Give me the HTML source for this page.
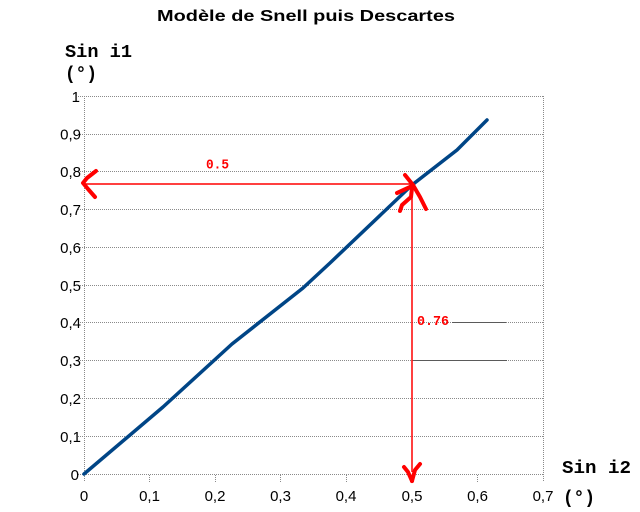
<!DOCTYPE html>
<html>
<head>
<meta charset="utf-8">
<style>
  html, body { margin: 0; padding: 0; background: #ffffff; }
  svg { display: block; }
</style>
</head>
<body>
<svg width="640" height="512" viewBox="0 0 640 512" xmlns="http://www.w3.org/2000/svg">
  <rect width="640" height="512" fill="#ffffff"/>

  <!-- Title -->
  <text x="157" y="21" font-family="Liberation Sans, Arial, sans-serif" font-weight="bold" font-size="16" textLength="298" lengthAdjust="spacingAndGlyphs" fill="#000">Modèle de Snell puis Descartes</text>

  <!-- Axis titles -->
  <g font-family="Liberation Mono, Courier New, monospace" font-weight="bold" font-size="18" fill="#000">
    <text x="65" y="57" textLength="67" lengthAdjust="spacingAndGlyphs">Sin i1</text>
    <text x="65" y="79" textLength="32" lengthAdjust="spacingAndGlyphs">(°)</text>
    <text x="562" y="473" textLength="69" lengthAdjust="spacingAndGlyphs">Sin i2</text>
    <text x="563" y="503" textLength="32" lengthAdjust="spacingAndGlyphs">(°)</text>
  </g>

  <!-- Gridlines (dotted) -->
  <g stroke="#8a8a8a" stroke-width="1" stroke-dasharray="1,1" fill="none">
    <line x1="78" y1="96.5" x2="543" y2="96.5"/>
    <line x1="78" y1="134.5" x2="543" y2="134.5"/>
    <line x1="78" y1="171.5" x2="543" y2="171.5"/>
    <line x1="78" y1="209.5" x2="543" y2="209.5"/>
    <line x1="78" y1="247.5" x2="543" y2="247.5"/>
    <line x1="78" y1="285.5" x2="543" y2="285.5"/>
    <line x1="78" y1="322.5" x2="543" y2="322.5"/>
    <line x1="78" y1="360.5" x2="543" y2="360.5"/>
    <line x1="78" y1="398.5" x2="543" y2="398.5"/>
    <line x1="78" y1="436.5" x2="543" y2="436.5"/>
    <line x1="78" y1="474.5" x2="543" y2="474.5"/>
    <!-- left axis -->
    <line x1="84.5" y1="96" x2="84.5" y2="482"/>
    <!-- right border -->
    <line x1="543.5" y1="96" x2="543.5" y2="482"/>
    <!-- x ticks -->
    <line x1="149.5" y1="475" x2="149.5" y2="482"/>
    <line x1="215.5" y1="475" x2="215.5" y2="482"/>
    <line x1="280.5" y1="475" x2="280.5" y2="482"/>
    <line x1="346.5" y1="475" x2="346.5" y2="482"/>
    <line x1="412.5" y1="475" x2="412.5" y2="482"/>
    <line x1="477.5" y1="475" x2="477.5" y2="482"/>
  </g>

  <!-- darker remnant segments -->
  <g stroke="#5a5a5a" stroke-width="1">
    <line x1="452" y1="322.5" x2="506" y2="322.5"/>
    <line x1="413" y1="360.5" x2="507" y2="360.5"/>
  </g>

  <!-- Y labels -->
  <g font-family="Liberation Sans, Arial, sans-serif" font-size="15" fill="#000" text-anchor="end">
    <text x="80" y="102">1</text>
    <text x="81" y="139.5">0,9</text>
    <text x="81" y="177">0,8</text>
    <text x="81" y="215">0,7</text>
    <text x="81" y="253">0,6</text>
    <text x="81" y="291">0,5</text>
    <text x="81" y="328">0,4</text>
    <text x="81" y="366">0,3</text>
    <text x="81" y="404">0,2</text>
    <text x="81" y="442">0,1</text>
    <text x="79" y="480">0</text>
  </g>

  <!-- X labels -->
  <g font-family="Liberation Sans, Arial, sans-serif" font-size="15" fill="#000" text-anchor="middle">
    <text x="84" y="501">0</text>
    <text x="149.5" y="501">0,1</text>
    <text x="215" y="501">0,2</text>
    <text x="280.5" y="501">0,3</text>
    <text x="346" y="501">0,4</text>
    <text x="412" y="501">0,5</text>
    <text x="477.5" y="501">0,6</text>
    <text x="543" y="501">0,7</text>
  </g>

  <!-- Data series -->
  <polyline fill="none" stroke="#004586" stroke-width="3.5" stroke-linejoin="round" stroke-linecap="round"
    points="84,474 163,407 232,344 303,288 330,263 412,185 457,150 487,120"/>

  <!-- Red annotation lines -->
  <g stroke="#ff0000" stroke-width="1.5" fill="none">
    <line x1="84" y1="184" x2="412" y2="184"/>
    <line x1="412" y1="184" x2="412" y2="472"/>
  </g>

  <!-- Hand-drawn red arrowheads -->
  <g stroke="#ff0000" stroke-width="4" fill="none" stroke-linecap="round" stroke-linejoin="round">
    <polyline points="96,171 87,178 83,183 88,189 95,197"/>
    <polyline points="405,175 413,185"/>
    <polyline points="397,193 410,187 413,185"/>
    <polyline points="413,185 420,197 426,209"/>
    <polyline points="412,188 411,197 402,205 400,211"/>
    <polyline points="404,467 408,472 412,481"/>
    <polyline points="412,481 415,470 420,464"/>
  </g>

  <!-- Red annotation text -->
  <g font-family="Liberation Mono, Courier New, monospace" font-weight="bold" font-size="13.5" fill="#ff0000">
    <text x="206" y="168.5" textLength="23" lengthAdjust="spacingAndGlyphs">0.5</text>
    <text x="417" y="325" textLength="32" lengthAdjust="spacingAndGlyphs">0.76</text>
  </g>
</svg>
</body>
</html>
